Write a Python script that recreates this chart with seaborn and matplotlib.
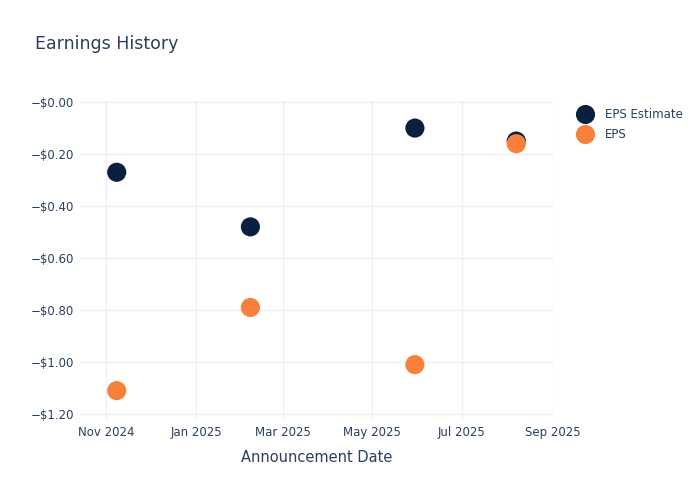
import pandas as pd
import matplotlib
matplotlib.use("Agg")
import matplotlib.pyplot as plt
import matplotlib.dates as mdates
from matplotlib.ticker import FuncFormatter
import seaborn as sns

# values
dates = ["2024-11-08", "2025-02-07", "2025-05-30", "2025-08-07"]
eps_estimate = [-0.27, -0.48, -0.10, -0.15]
eps_actual = [-1.11, -0.79, -1.01, -0.16]
series_names = ["EPS Estimate", "EPS"]
series_colors = ["#0b1f3f", "#f7803a"]

df = pd.DataFrame({
    "date": pd.to_datetime(dates * 2),
    "value": eps_estimate + eps_actual,
    "series": [series_names[0]] * len(dates) + [series_names[1]] * len(dates),
})

sns.set_style("white")
plt.rcParams["font.family"] = ["DejaVu Sans"]
text_color = "#2a3f5f"
grid_color = "#ebf0f8"

fig = plt.figure(figsize=(7, 5), dpi=100)
ax = fig.add_axes([80 / 700, 80 / 500, 473 / 700, 320 / 500])

sns.scatterplot(data=df, x="date", y="value", hue="series",
                palette=dict(zip(series_names, series_colors)),
                s=190, edgecolor="none", ax=ax, zorder=3)

ax.set_xlim(pd.Timestamp("2024-10-14"), pd.Timestamp("2025-09-01"))
ax.set_ylim(-1.223, 0.008)
ax.xaxis.set_major_locator(mdates.MonthLocator(bymonth=[1, 3, 5, 7, 9, 11]))
ax.xaxis.set_major_formatter(mdates.DateFormatter("%b %Y"))
ax.set_yticks([0, -0.2, -0.4, -0.6, -0.8, -1.0, -1.2])
ax.yaxis.set_major_formatter(FuncFormatter(lambda v, p: "\u2212${:.2f}".format(abs(v))))

ax.grid(True, color=grid_color, linewidth=1)
ax.set_axisbelow(True)
for sp in ax.spines.values():
    sp.set_visible(False)
ax.tick_params(axis="both", length=0, labelsize=8.5, colors=text_color, pad=4)

ax.set_xlabel("Announcement Date", fontsize=10.5, color=text_color, labelpad=8)
ax.set_ylabel("")

fig.text(35 / 700, 1 - 44 / 500, "Earnings History", fontsize=12.5,
         color=text_color, va="center", ha="left")

leg = ax.legend(loc="upper left", bbox_to_anchor=(1.025, 1.0), frameon=False,
                fontsize=8.5, handletextpad=0.7, labelspacing=0.55,
                markerscale=1.0, borderaxespad=0.3)
for t in leg.get_texts():
    t.set_color(text_color)

fig.savefig("out.png", dpi=100)
